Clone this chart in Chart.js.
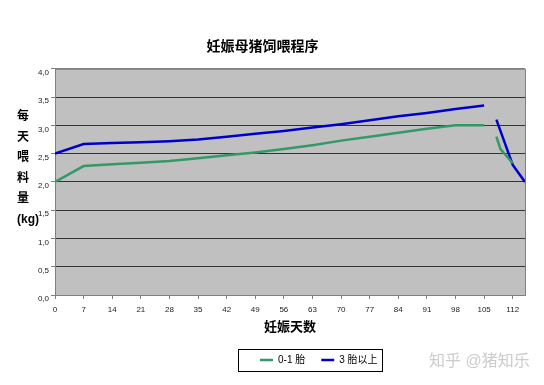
<!DOCTYPE html>
<html>
<head>
<meta charset="utf-8">
<script src="https://cdn.jsdelivr.net/npm/chart.js@4/dist/chart.umd.min.js"></script>
<style>
    body { margin: 0; background: #fff; }
    #chartDisplay { display: block; }
</style>
</head>
<body>
<canvas id="chartDisplay" width="544" height="385"></canvas>
<script>
"use strict";

// Data
var chartTitle = '妊娠母猪饲喂程序';
var xTitle = '妊娠天数';
var yTitleLines = ['每', '天', '喂', '料', '量', '(kg)'];
var seriesNames = ['0-1 胎', '3 胎以上'];

var xTicks = [0, 7, 14, 21, 28, 35, 42, 49, 56, 63, 70, 77, 84, 91, 98, 105, 112];
var yTickLabels = ['0,0', '0,5', '1,0', '1,5', '2,0', '2,5', '3,0', '3,5', '4,0'];

var greenDays   = [0, 7, 14, 21, 28, 35, 42, 49, 56, 63, 70, 77, 84, 91, 98, 105, 106, 108, 109, 112];
var greenValues = [2.0, 2.28, 2.31, 2.34, 2.37, 2.42, 2.47, 2.52, 2.58, 2.65, 2.73, 2.80, 2.87, 2.94, 3.0, 3.0, null, 2.8, 2.58, 2.33];

var blueDays   = [0, 7, 14, 21, 28, 35, 42, 49, 56, 63, 70, 77, 84, 91, 98, 105, 106, 108, 112, 115];
var blueValues = [2.5, 2.67, 2.69, 2.70, 2.72, 2.75, 2.80, 2.85, 2.90, 2.96, 3.02, 3.09, 3.16, 3.22, 3.29, 3.35, null, 3.1, 2.3, 2.0];

var fontFamily = "'Liberation Sans', 'Noto Sans CJK SC', sans-serif";

function toPoints(days, values) {
    return days.map(function (d, i) { return { x: d, y: values[i] }; });
}

// Grey plot area + frame, stacked y title, legend frame, watermark
var decorations = {
    id: 'decorations',
    afterLayout: function (chart) {
        // move legend items so the row starts where the original does
        var lg = chart.legend;
        if (!lg || !lg.lineWidths) return;
        var pad = lg.options.labels.padding;
        var start = (lg.left + pad + lg.right - lg.lineWidths[0]) / 2;
        var dx = 260 - start;
        lg.left += dx;
        lg.right += dx;
    },
    beforeDraw: function (chart) {
        var ctx = chart.ctx, a = chart.chartArea;
        ctx.save();
        ctx.fillStyle = '#ffffff';
        ctx.fillRect(0, 0, chart.width, chart.height);
        ctx.fillStyle = '#c0c0c0';
        ctx.fillRect(a.left, a.top, a.right - a.left, a.bottom - a.top);
        ctx.restore();
    },
    afterDraw: function (chart) {
        var ctx = chart.ctx, a = chart.chartArea;
        ctx.save();

        // top and right frame of the plot area
        ctx.strokeStyle = '#808080';
        ctx.lineWidth = 1;
        ctx.beginPath();
        ctx.moveTo(a.left, a.top + 0.5);
        ctx.lineTo(a.right + 0.5, a.top + 0.5);
        ctx.lineTo(a.right + 0.5, a.bottom);
        ctx.stroke();

        // y axis title, one character per line
        ctx.fillStyle = '#000';
        ctx.font = 'bold 12px ' + fontFamily;
        ctx.textAlign = 'left';
        ctx.textBaseline = 'middle';
        yTitleLines.forEach(function (t, i) {
            ctx.fillText(t, 17, 117 + i * 20.5);
        });

        // frame round the legend
        var hb = chart.legend.legendHitBoxes;
        if (hb && hb.length) {
            var last = hb[hb.length - 1];
            var x0 = hb[0].left - 22, x1 = last.left + last.width + 4;
            var y0 = hb[0].top - 6, y1 = hb[0].top + hb[0].height + 6;
            ctx.strokeStyle = '#000';
            ctx.lineWidth = 1;
            ctx.strokeRect(Math.round(x0) + 0.5, Math.round(y0) + 0.5, Math.round(x1 - x0), Math.round(y1 - y0));
        }

        // watermark
        ctx.fillStyle = '#cccccc';
        ctx.font = '16px ' + fontFamily;
        ctx.fillText('知乎 @猪知乐', 429, 362);
        ctx.restore();
    }
};

var ctx1 = document.getElementById('chartDisplay').getContext('2d');
var chart1 = new Chart(ctx1, {
    type: 'line',
    data: {
        datasets: [{
            label: seriesNames[0],
            data: toPoints(greenDays, greenValues),
            borderColor: '#339966',
            backgroundColor: '#339966',
            borderWidth: 2.5
        }, {
            label: seriesNames[1],
            data: toPoints(blueDays, blueValues),
            borderColor: '#0000cc',
            backgroundColor: '#0000cc',
            borderWidth: 2.5
        }]
    },
    options: {
        responsive: false,
        animation: false,
        spanGaps: false,
        elements: {
            point: { radius: 0, hoverRadius: 0 },
            line: { tension: 0 }
        },
        layout: { padding: { left: 0, right: 19, top: 0, bottom: 10 } },
        scales: {
            x: {
                type: 'linear',
                min: 0,
                max: 115,
                afterFit: function (scale) { scale.height = 44; },
                afterBuildTicks: function (scale) {
                    scale.ticks = xTicks.map(function (v) { return { value: v }; });
                },
                ticks: {
                    autoSkip: false,
                    maxRotation: 0,
                    padding: 6,
                    color: '#222',
                    font: { size: 8, family: fontFamily },
                    callback: function (v) { return String(v); }
                },
                grid: {
                    drawOnChartArea: false,
                    tickLength: 4,
                    color: '#808080'
                },
                border: { color: '#808080', width: 1 },
                title: {
                    display: true,
                    text: xTitle,
                    color: '#000',
                    font: { size: 13, weight: 'bold', family: fontFamily },
                    padding: { top: 0, bottom: 4 }
                }
            },
            y: {
                min: 0,
                max: 4,
                afterFit: function (scale) { scale.width = 55; },
                ticks: {
                    stepSize: 0.5,
                    padding: 2,
                    labelOffset: 4,
                    color: '#222',
                    font: { size: 8, family: fontFamily },
                    callback: function (v, i) { return yTickLabels[i]; }
                },
                grid: {
                    color: function (c) { return c.tick && c.tick.value === 4 ? '#808080' : '#333333'; },
                    tickColor: '#808080',
                    tickLength: 4,
                    lineWidth: 1
                },
                border: { color: '#808080', width: 1 }
            }
        },
        plugins: {
            title: {
                display: true,
                text: chartTitle,
                color: '#000',
                font: { size: 14, weight: 'bold', family: fontFamily },
                padding: { top: 39, bottom: 13 }
            },
            legend: {
                position: 'bottom',
                labels: {
                    usePointStyle: true,
                    pointStyle: 'line',
                    pointStyleWidth: 13,
                    padding: 16,
                    color: '#000',
                    font: { size: 10, family: fontFamily }
                }
            },
            tooltip: { enabled: false }
        }
    },
    plugins: [decorations]
});
</script>
</body>
</html>
